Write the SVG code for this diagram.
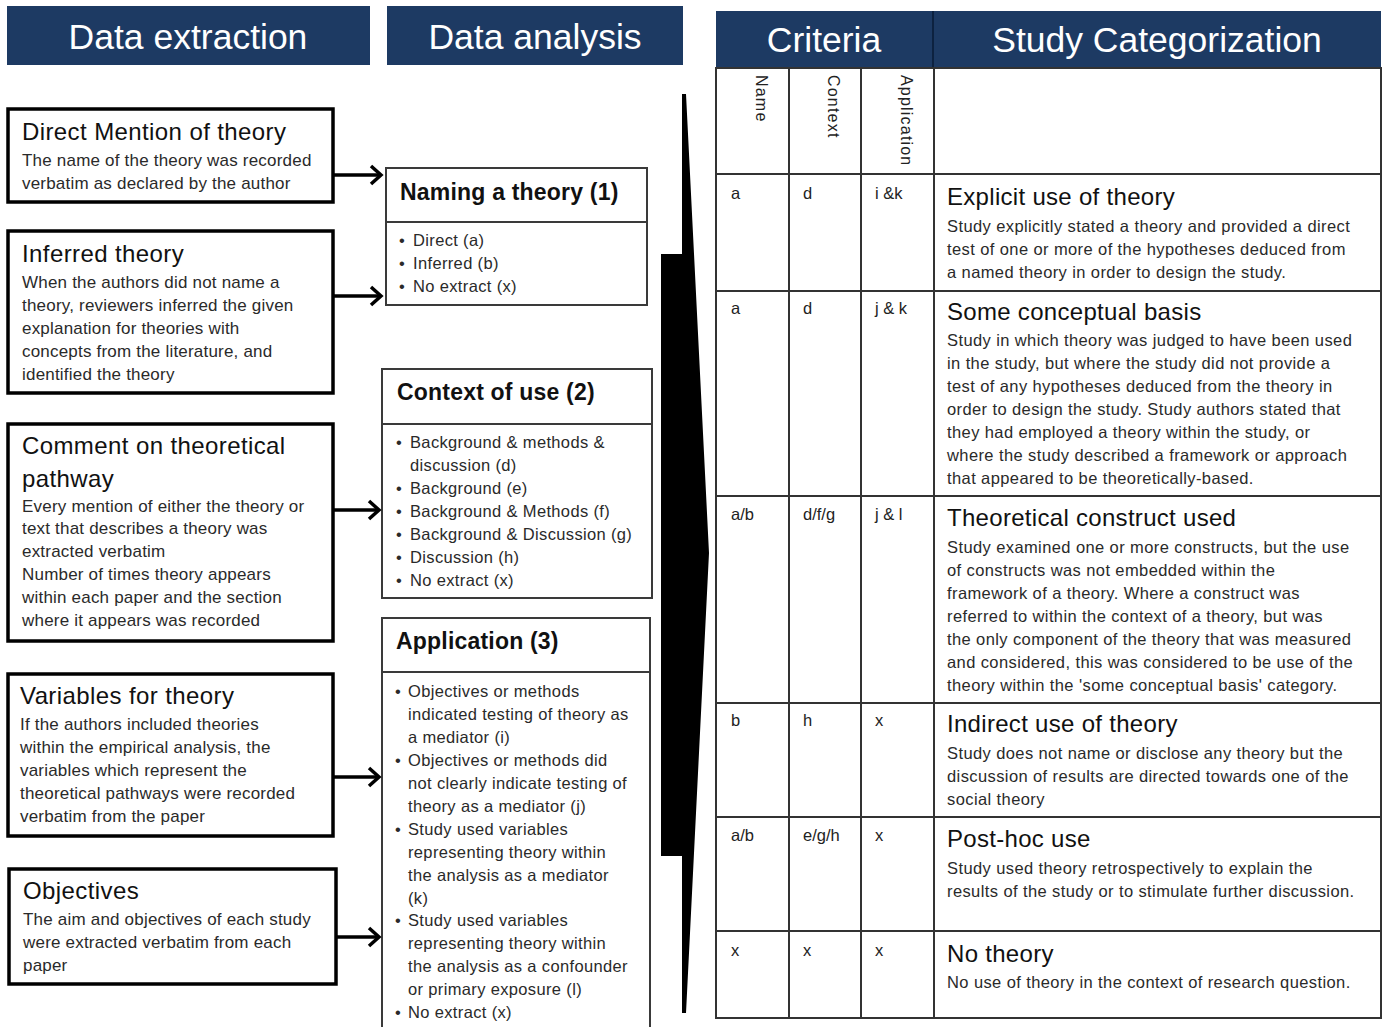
<svg xmlns="http://www.w3.org/2000/svg" width="1383" height="1027" viewBox="0 0 1383 1027">
<defs>
<style>
text{font-family:"Liberation Sans",Arial,sans-serif;}
.hdr{fill:#1d3a63;}
.htx{fill:#ffffff;font-size:35.5px;text-anchor:middle;}
.lbox{fill:#fff;stroke:#000;stroke-width:3.5;}
.mbox{fill:#fff;stroke:#3a3a3a;stroke-width:2;}
.lt{font-size:24px;letter-spacing:0.4px;fill:#111;}
.lb{font-size:17px;letter-spacing:0.2px;fill:#2a2a2a;}
.mt{font-size:23px;letter-spacing:0.2px;font-weight:bold;fill:#111;}
.mb{font-size:16.5px;letter-spacing:0.35px;fill:#2a2a2a;}
.grid{stroke:#333;stroke-width:2;fill:none;}
.tt{font-size:24px;letter-spacing:0.3px;fill:#111;}
.tb{font-size:16.5px;letter-spacing:0.4px;fill:#2a2a2a;}
.tc{font-size:16.5px;fill:#222;}
.rot{font-size:16px;letter-spacing:1.2px;fill:#222;}
.conn{stroke:#000;stroke-width:3.5;fill:none;}
</style>
<marker id="arr" markerUnits="userSpaceOnUse" markerWidth="16" markerHeight="22" refX="12" refY="11" orient="auto">
<path d="M2,2 L12,11 L2,20" fill="none" stroke="#000" stroke-width="3.5"/>
</marker>
</defs>
<rect width="1383" height="1027" fill="#fff"/>

<g id="header-extraction">
<rect class="hdr" x="7" y="6" width="363" height="59"/>
<text class="htx" x="188" y="49">Data  extraction</text>
</g>
<g id="header-analysis">
<rect class="hdr" x="387" y="6" width="296" height="59"/>
<text class="htx" x="535" y="49">Data  analysis</text>
</g>

<g id="box-direct">
<rect class="lbox" x="8" y="109" width="325" height="93"/>
<text class="lt" x="22" y="140">Direct Mention of theory</text>
<text class="lb" x="22" y="166">The name of the theory was recorded</text>
<text class="lb" x="22" y="189">verbatim as declared by the author</text>
</g>
<g id="box-inferred">
<rect class="lbox" x="8" y="231" width="325" height="162"/>
<text class="lt" x="22" y="262">Inferred theory</text>
<text class="lb" x="22" y="288">When the authors did not name a</text>
<text class="lb" x="22" y="311">theory, reviewers inferred the given</text>
<text class="lb" x="22" y="334">explanation for theories with</text>
<text class="lb" x="22" y="357">concepts from the literature, and</text>
<text class="lb" x="22" y="380">identified the theory</text>
</g>
<g id="box-comment">
<rect class="lbox" x="8" y="424" width="325" height="217"/>
<text class="lt" x="22" y="454">Comment on theoretical</text>
<text class="lt" x="22" y="487">pathway</text>
<text class="lb" x="22" y="512">Every mention of either the theory or</text>
<text class="lb" x="22" y="534">text that describes a theory was</text>
<text class="lb" x="22" y="557">extracted verbatim</text>
<text class="lb" x="22" y="580">Number  of times theory appears</text>
<text class="lb" x="22" y="603">within each paper and the section</text>
<text class="lb" x="22" y="626">where  it appears was recorded</text>
</g>
<g id="box-variables">
<rect class="lbox" x="8" y="674" width="325" height="162"/>
<text class="lt" x="20" y="704">Variables for theory</text>
<text class="lb" x="20" y="730">If the authors included  theories</text>
<text class="lb" x="20" y="753">within the empirical analysis, the</text>
<text class="lb" x="20" y="776">variables which represent the</text>
<text class="lb" x="20" y="799">theoretical pathways  were recorded</text>
<text class="lb" x="20" y="822">verbatim from the paper</text>
</g>
<g id="box-objectives">
<rect class="lbox" x="9" y="869" width="327" height="115"/>
<text class="lt" x="23" y="899">Objectives</text>
<text class="lb" x="23" y="925">The aim and objectives of each study</text>
<text class="lb" x="23" y="948">were extracted verbatim from each</text>
<text class="lb" x="23" y="971">paper</text>
</g>

<g id="box-naming">
<rect class="mbox" x="386" y="168" width="261" height="137"/>
<line class="mbox" x1="386" y1="222" x2="647" y2="222"/>
<text class="mt" x="400" y="200">Naming a theory (1)</text>
<text class="mb" x="399" y="246">•</text><text class="mb" x="413" y="246">Direct (a)</text>
<text class="mb" x="399" y="269">•</text><text class="mb" x="413" y="269">Inferred (b)</text>
<text class="mb" x="399" y="292">•</text><text class="mb" x="413" y="292">No extract (x)</text>
</g>
<g id="box-context">
<rect class="mbox" x="382" y="369" width="270" height="229"/>
<line class="mbox" x1="382" y1="424" x2="652" y2="424"/>
<text class="mt" x="397" y="400">Context of use (2)</text>
<text class="mb" x="396" y="448">•</text><text class="mb" x="410" y="448">Background &amp; methods &amp;</text>
<text class="mb" x="410" y="471">discussion (d)</text>
<text class="mb" x="396" y="494">•</text><text class="mb" x="410" y="494">Background (e)</text>
<text class="mb" x="396" y="517">•</text><text class="mb" x="410" y="517">Background &amp; Methods  (f)</text>
<text class="mb" x="396" y="540">•</text><text class="mb" x="410" y="540">Background &amp; Discussion (g)</text>
<text class="mb" x="396" y="563">•</text><text class="mb" x="410" y="563">Discussion (h)</text>
<text class="mb" x="396" y="586">•</text><text class="mb" x="410" y="586">No extract (x)</text>
</g>
<g id="box-application">
<path class="mbox" d="M382,1030 L382,618 L650,618 L650,1030"/>
<line class="mbox" x1="382" y1="672" x2="650" y2="672"/>
<text class="mt" x="396" y="649">Application (3)</text>
<text class="mb" x="395" y="697">•</text><text class="mb" x="408" y="697">Objectives or methods</text>
<text class="mb" x="408" y="720">indicated testing of theory as</text>
<text class="mb" x="408" y="743">a mediator  (i)</text>
<text class="mb" x="395" y="766">•</text><text class="mb" x="408" y="766">Objectives or methods did</text>
<text class="mb" x="408" y="789">not clearly indicate testing of</text>
<text class="mb" x="408" y="812">theory as a mediator (j)</text>
<text class="mb" x="395" y="835">•</text><text class="mb" x="408" y="835">Study used variables</text>
<text class="mb" x="408" y="858">representing theory within</text>
<text class="mb" x="408" y="881">the analysis as a mediator</text>
<text class="mb" x="408" y="904">(k)</text>
<text class="mb" x="395" y="926">•</text><text class="mb" x="408" y="926">Study used variables</text>
<text class="mb" x="408" y="949">representing theory within</text>
<text class="mb" x="408" y="972">the analysis as a confounder</text>
<text class="mb" x="408" y="995">or primary exposure (l)</text>
<text class="mb" x="395" y="1018">•</text><text class="mb" x="408" y="1018">No extract (x)</text>
</g>

<g id="connectors">
<line class="conn" x1="334" y1="175" x2="381" y2="175" marker-end="url(#arr)"/>
<line class="conn" x1="334" y1="296" x2="381" y2="296" marker-end="url(#arr)"/>
<line class="conn" x1="334" y1="510" x2="379" y2="510" marker-end="url(#arr)"/>
<line class="conn" x1="334" y1="777" x2="379" y2="777" marker-end="url(#arr)"/>
<line class="conn" x1="337" y1="937" x2="379" y2="937" marker-end="url(#arr)"/>
<path d="M682,94 L686,94 L709,553 L686,1013 L682,1013 L682,856 L661,856 L661,254 L682,254 Z" fill="#000"/>
</g>

<g id="table">
<rect class="hdr" x="716" y="11" width="665" height="57"/>
<line x1="933" y1="11" x2="933" y2="68" stroke="#0d2240" stroke-width="2"/>
<text class="htx" x="824" y="52">Criteria</text>
<text class="htx" x="1157" y="52">Study  Categorization</text>
<rect class="grid" x="716" y="68" width="665" height="950"/>
<line class="grid" x1="789" y1="68" x2="789" y2="1018"/>
<line class="grid" x1="861" y1="68" x2="861" y2="1018"/>
<line class="grid" x1="934" y1="68" x2="934" y2="1018"/>
<line class="grid" x1="716" y1="174" x2="1381" y2="174"/>
<line class="grid" x1="716" y1="291" x2="1381" y2="291"/>
<line class="grid" x1="716" y1="496" x2="1381" y2="496"/>
<line class="grid" x1="716" y1="703" x2="1381" y2="703"/>
<line class="grid" x1="716" y1="817" x2="1381" y2="817"/>
<line class="grid" x1="716" y1="931" x2="1381" y2="931"/>
<text class="rot" transform="translate(756,75) rotate(90)">Name</text>
<text class="rot" transform="translate(828,75) rotate(90)">Context</text>
<text class="rot" transform="translate(901,75) rotate(90)">Application</text>
</g>

<g id="row-explicit">
<text class="tc" x="731" y="199">a</text><text class="tc" x="803" y="199">d</text><text class="tc" x="875" y="199">i &amp;k</text>
<text class="tt" x="947" y="205">Explicit use of theory</text>
<text class="tb" x="947" y="232">Study explicitly stated a theory and provided a direct</text>
<text class="tb" x="947" y="255">test of one or more of the hypotheses deduced from</text>
<text class="tb" x="947" y="278">a named theory in order to design the study.</text>
</g>
<g id="row-conceptual">
<text class="tc" x="731" y="314">a</text><text class="tc" x="803" y="314">d</text><text class="tc" x="875" y="314">j &amp; k</text>
<text class="tt" x="947" y="320">Some conceptual basis</text>
<text class="tb" x="947" y="346">Study in which theory was judged to have been used</text>
<text class="tb" x="947" y="369">in the study, but where the study did not provide a</text>
<text class="tb" x="947" y="392">test of any hypotheses deduced from the theory in</text>
<text class="tb" x="947" y="415">order to design the study. Study authors stated that</text>
<text class="tb" x="947" y="438">they had employed a theory within the study, or</text>
<text class="tb" x="947" y="461">where the study described a framework or approach</text>
<text class="tb" x="947" y="484">that appeared to be theoretically-based.</text>
</g>
<g id="row-construct">
<text class="tc" x="731" y="520">a/b</text><text class="tc" x="803" y="520">d/f/g</text><text class="tc" x="875" y="520">j &amp; l</text>
<text class="tt" x="947" y="526">Theoretical construct used</text>
<text class="tb" x="947" y="553">Study examined one or more constructs, but the use</text>
<text class="tb" x="947" y="576">of constructs was not embedded within the</text>
<text class="tb" x="947" y="599">framework of a theory. Where a construct was</text>
<text class="tb" x="947" y="622">referred to within the context of a theory, but was</text>
<text class="tb" x="947" y="645">the only component of the theory that was measured</text>
<text class="tb" x="947" y="668">and considered, this was considered to be use of the</text>
<text class="tb" x="947" y="691">theory within the 'some conceptual basis' category.</text>
</g>
<g id="row-indirect">
<text class="tc" x="731" y="726">b</text><text class="tc" x="803" y="726">h</text><text class="tc" x="875" y="726">x</text>
<text class="tt" x="947" y="732">Indirect use of theory</text>
<text class="tb" x="947" y="759">Study does not name or disclose any theory but the</text>
<text class="tb" x="947" y="782">discussion of results are directed towards one of the</text>
<text class="tb" x="947" y="805">social theory</text>
</g>
<g id="row-posthoc">
<text class="tc" x="731" y="841">a/b</text><text class="tc" x="803" y="841">e/g/h</text><text class="tc" x="875" y="841">x</text>
<text class="tt" x="947" y="847">Post-hoc use</text>
<text class="tb" x="947" y="874">Study used theory retrospectively to explain the</text>
<text class="tb" x="947" y="897">results of the study or to stimulate further discussion.</text>
</g>
<g id="row-notheory">
<text class="tc" x="731" y="956">x</text><text class="tc" x="803" y="956">x</text><text class="tc" x="875" y="956">x</text>
<text class="tt" x="947" y="962">No theory</text>
<text class="tb" x="947" y="988">No use of theory in the context of research question.</text>
</g>
</svg>
